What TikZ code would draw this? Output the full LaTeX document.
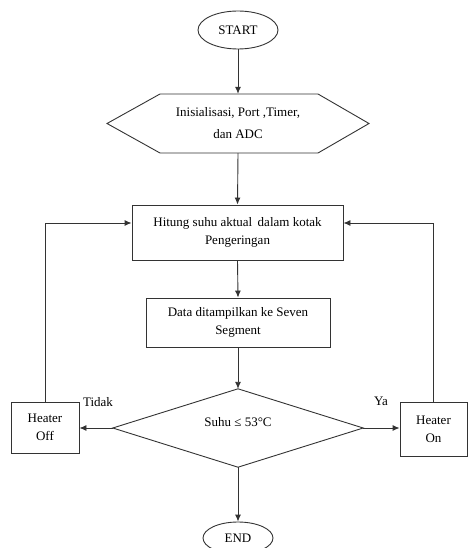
\documentclass[tikz,border=0pt]{standalone}
\usepackage{fontspec}
\setmainfont{Liberation Serif}
\usetikzlibrary{shapes.geometric,arrows.meta}
\begin{document}
\begin{tikzpicture}[x=1pt,y=-1pt,
  every node/.style={font=\fontsize{13}{18}\selectfont, text=black},
  line/.style={draw=black!80, line width=0.9pt},
  arr/.style={line, -{Latex[length=7pt,width=6pt]}},
  proc/.style={draw=black!80, line width=0.9pt, rectangle, align=center, inner sep=0pt},
  term/.style={draw=black!80, line width=0.9pt, ellipse, inner sep=0pt},
  lbl/.style={inner sep=0pt}
]
\useasboundingbox (0,0) rectangle (467,548);

\node[term, minimum width=80, minimum height=38] (start) at (238,30) {START};

\node[align=center, minimum width=262, minimum height=59, inner sep=0pt] (init) at (238,123.5)
  {Inisialisasi, Port ,Timer,\\[4pt]dan ADC};
\draw[line] (107,123.5) -- (160,94) -- (318,94) -- (369,123.5) -- (318,153) -- (160,153) -- cycle;

\node[proc, minimum width=211, minimum height=55] (calc) at (237.5,232.5)
  {Hitung suhu aktual\, dalam kotak\\Pengeringan};

\node[proc, minimum width=184, minimum height=49] (disp) at (238,322.5)
  {Data ditampilkan ke Seven\\Segment};

\node[minimum width=250, minimum height=78, inner sep=0pt] (dec) at (238,428) {};
\draw[line] (dec.north) -- (dec.east) -- (dec.south) -- (dec.west) -- cycle;
\node[lbl] (dectext) at (238,422) {Suhu ≤ 53°C};

\node[proc, minimum width=68, minimum height=51] (off) at (45,427.5) {Heater\\Off};
\node[proc, minimum width=67, minimum height=54] (on) at (433.5,429) {Heater\\On};

\node[term, minimum width=70, minimum height=32] (end) at (238,538) {END};

\node[lbl] (tidak) at (98,402) {Tidak};
\node[lbl] (ya) at (381,401) {Ya};

\draw[arr] (start.south) -- (init.north);
\draw[arr] (init.south) -- (calc.north);
\draw[arr] (calc.south) -- (disp.north);
\draw[arr] (disp.south) -- (dec.north);
\draw[arr] (dec.south) -- (end.north);
\draw[arr] (dec.west) -- (dec.west -| off.east);
\draw[arr] (dec.east) -- (dec.east -| on.west);
\draw[arr] (off.north) |- ([yshift=9.5pt]calc.west);
\draw[arr] (on.north) |- ([yshift=9.5pt]calc.east);
\end{tikzpicture}
\end{document}
